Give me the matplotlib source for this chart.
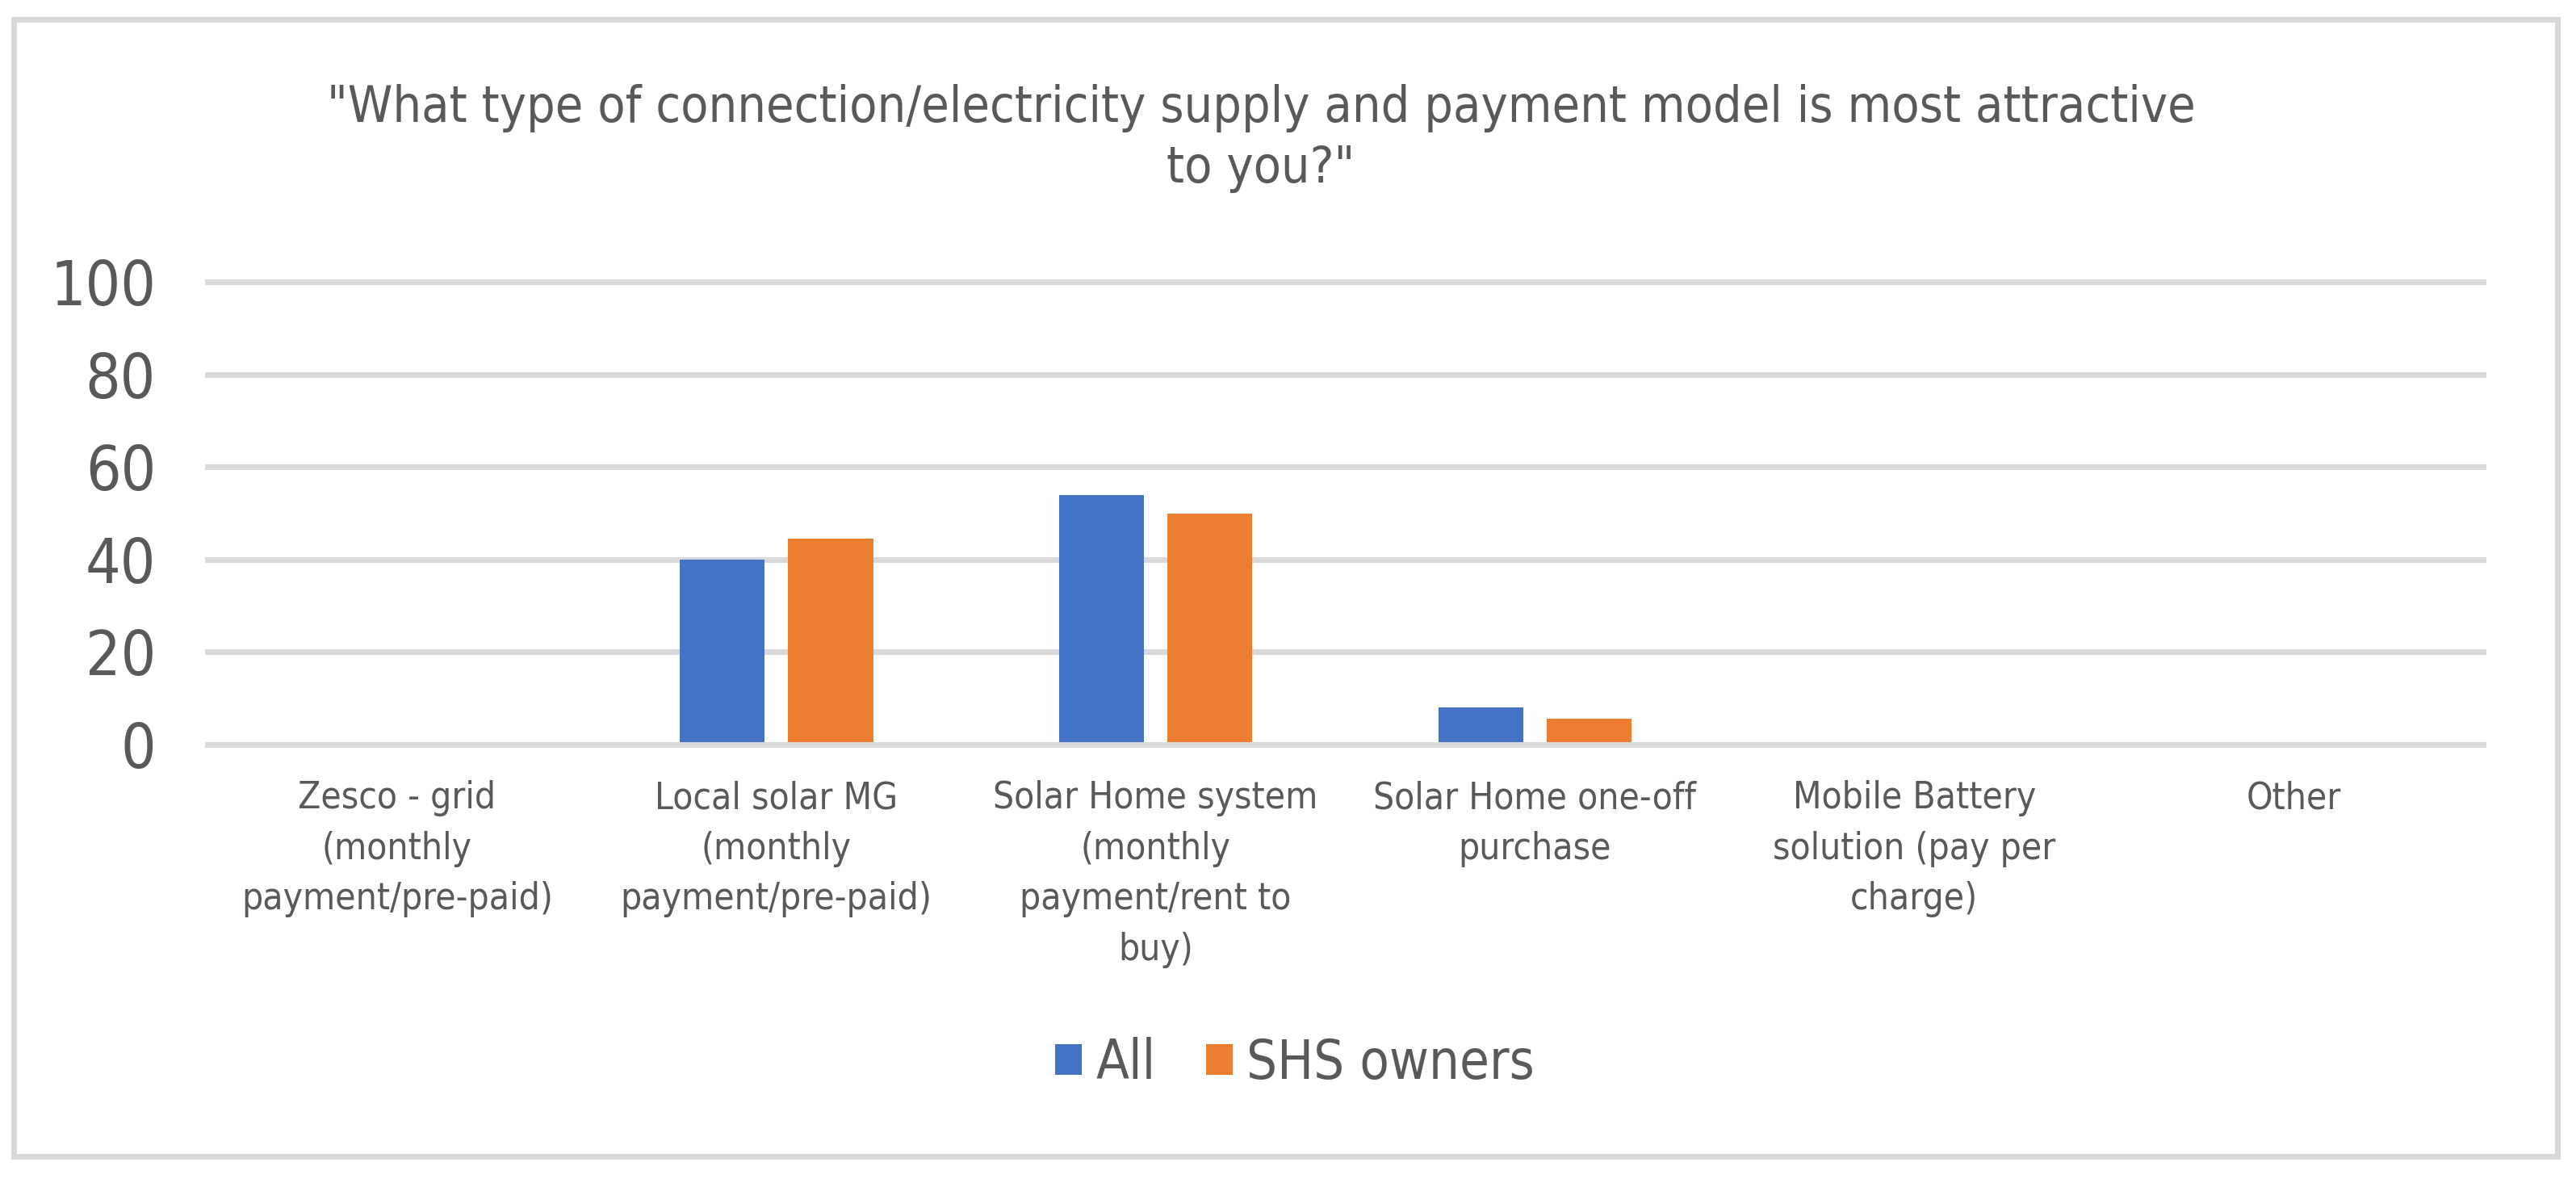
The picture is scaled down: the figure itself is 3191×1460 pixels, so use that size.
import matplotlib
matplotlib.use("Agg")
import matplotlib.pyplot as plt
from matplotlib.patches import Patch, Rectangle
import numpy as np

categories = [
    "Zesco - grid\n(monthly\npayment/pre-paid)",
    "Local solar MG\n(monthly\npayment/pre-paid)",
    "Solar Home system\n(monthly\npayment/rent to\nbuy)",
    "Solar Home one-off\npurchase",
    "Mobile Battery\nsolution (pay per\ncharge)",
    "Other",
]
all_vals = [0, 40.0, 54.0, 8.1, 0, 0]
shs_vals = [0, 44.5, 50.0, 5.6, 0, 0]
series_names = ["All", "SHS owners"]
yticks = [0, 20, 40, 60, 80, 100]
title = '"What type of connection/electricity supply and payment model is most attractive\nto you?"'

BLUE = "#4472C4"
ORANGE = "#ED7D31"
GRID = "#D9D9D9"
TXT = "#595959"

plt.rcParams['font.family'] = ['DejaVu Sans']
plt.rcParams['font.stretch'] = 'condensed'

W, H = 3191, 1460
fig = plt.figure(figsize=(W / 100, H / 100), dpi=100)
fig.patch.set_facecolor("white")

# outer border
fig.patches.append(Rectangle((16.5 / W, 1 - 1431.5 / H), (3167.5 - 16.5) / W, (1431.5 - 24) / H,
                             transform=fig.transFigure, fill=False, edgecolor=GRID, linewidth=5.0))

x0, x1 = 257, 3076
y_top, y_bot = 349, 922
ax = fig.add_axes([x0 / W, 1 - y_bot / H, (x1 - x0) / W, (y_bot - y_top) / H])
ax.set_xlim(-0.5, len(categories) - 0.5)
ax.set_ylim(0, 100)

x = np.arange(len(categories))
bw = 0.224
off = 0.143
ax.bar(x - off, all_vals, width=bw, color=BLUE, zorder=2, label=series_names[0])
ax.bar(x + off, shs_vals, width=bw, color=ORANGE, zorder=2, label=series_names[1])

for t in yticks:
    ax.axhline(t, color=GRID, linewidth=5.0, zorder=3 if t == 0 else 1, clip_on=False)

for s in ax.spines.values():
    s.set_visible(False)

ax.set_yticks(yticks)
ax.set_yticklabels([str(t) for t in yticks], fontsize=55, color=TXT)
ax.tick_params(axis='y', length=0, pad=46)
ax.set_xticks(x)
ax.set_xticklabels(categories, fontsize=33, color=TXT, linespacing=1.5)
ax.tick_params(axis='x', length=0, pad=32)

fig.text(1562 / W, 1 - 104 / H, title, ha='center', va='top', fontsize=45, color=TXT,
         linespacing=1.32, multialignment='center')

handles = [Patch(facecolor=BLUE, edgecolor='none'), Patch(facecolor=ORANGE, edgecolor='none')]
leg = fig.legend(handles, series_names, loc='center', bbox_to_anchor=(1604 / W, 1 - 1317 / H),
                 ncol=2, frameon=False, fontsize=48, handlelength=0.5, handleheight=0.5,
                 handletextpad=0.25, columnspacing=0.94, borderaxespad=0, borderpad=0)
for t in leg.get_texts():
    t.set_color(TXT)

fig.savefig("out.png", dpi=100, facecolor="white")
